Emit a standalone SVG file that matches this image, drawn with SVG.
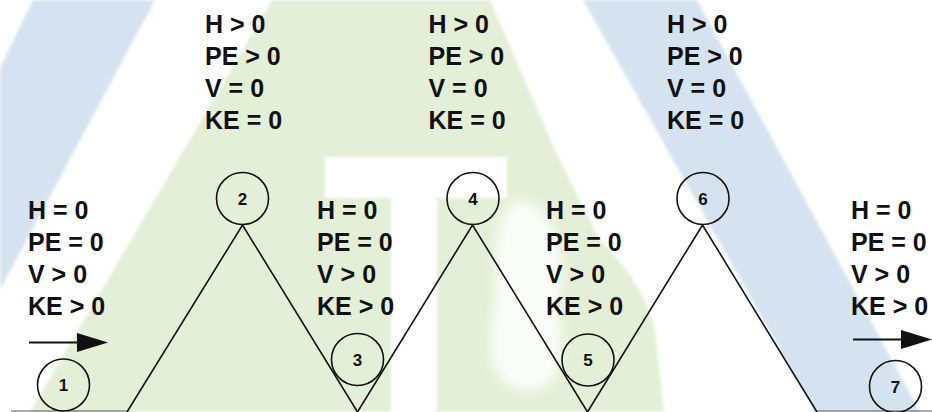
<svg xmlns="http://www.w3.org/2000/svg" width="932" height="412" viewBox="0 0 932 412">
  <style>
    .lbl { font-family: "Liberation Sans", Arial, sans-serif; font-weight: bold; font-size: 25px; fill: #111; }
    .num { font-family: "Liberation Sans", Arial, sans-serif; font-weight: bold; font-size: 17px; fill: #111; text-anchor: middle; }
    .node circle { fill: none; stroke: #111; stroke-width: 1.6; }
    .track { fill: none; stroke: #111; stroke-width: 1.6; stroke-linejoin: miter; }
    .ground { stroke: #555; stroke-width: 1.2; }
    .flow { stroke: #111; stroke-width: 2; marker-end: url(#head); }
    .blue { fill: #d5e3f1; }
    .green { fill: #e4efd7; }
    .white { fill: #ffffff; }
  </style>
  <defs>
    <marker id="head" markerUnits="userSpaceOnUse" markerWidth="31" markerHeight="19" refX="0" refY="9.5" orient="auto">
      <path d="M0,0 L31,9.5 L0,19 Z" fill="#111"/>
    </marker>
    <filter id="soft" x="-5%" y="-5%" width="110%" height="110%">
      <feGaussianBlur stdDeviation="1.8"/>
    </filter>
    <filter id="haze" x="-30%" y="-30%" width="160%" height="160%">
      <feGaussianBlur stdDeviation="6"/>
    </filter>
  </defs>

  <!-- pale backdrop emblem -->
  <rect width="932" height="412" fill="#ffffff"/>
  <g id="backdrop" filter="url(#soft)">
    <polygon class="blue" points="33,0 155,0 0,290 0,68"/>
    <path class="green" d="M272,0 L490,0 L555,150 L600,240 C630,270 648,300 655,330 L664,412 L30,412 Z"/>
    <rect class="white" x="325" y="157" width="182" height="41"/>
    <rect class="white" x="391" y="198" width="46" height="214"/>
    <polygon class="blue" points="583,0 697,0 920,412 815,412"/>
  </g>
  <g id="backdrop-curve" filter="url(#haze)" opacity="0.85">
    <path class="white" d="M520,200 C548,205 566,240 560,285 C556,330 570,360 548,385 C528,398 500,390 492,360 C486,330 498,310 496,285 C494,250 498,205 520,200 Z"/>
  </g>

  <!-- track, ground and direction arrows -->
  <g id="connectors">
    <line class="ground" x1="11" y1="411" x2="127" y2="411"/>
    <line class="ground" x1="817" y1="411" x2="932" y2="411"/>
    <polyline class="track" points="127,412 242.5,225 357.5,412 472.5,225 587.5,412 702.5,225 817,412"/>
    <line class="flow" x1="29" y1="342.5" x2="77" y2="342.5"/>
    <line class="flow" x1="853" y1="339.5" x2="901" y2="339.5"/>
  </g>

  <g id="node-1" class="node">
    <circle cx="63.5" cy="385" r="26"/>
    <text class="num" x="63.5" y="391">1</text>
    <text class="lbl" x="28" y="218.5"><tspan x="28">H = 0</tspan><tspan x="28" dy="32">PE = 0</tspan><tspan x="28" dy="32">V &gt; 0</tspan><tspan x="28" dy="32">KE &gt; 0</tspan></text>
  </g>

  <g id="node-2" class="node">
    <circle cx="242.5" cy="198.5" r="26"/>
    <text class="num" x="242.5" y="204.5">2</text>
    <text class="lbl" x="205" y="33"><tspan x="205">H &gt; 0</tspan><tspan x="205" dy="32">PE &gt; 0</tspan><tspan x="205" dy="32">V = 0</tspan><tspan x="205" dy="32">KE = 0</tspan></text>
  </g>

  <g id="node-3" class="node">
    <circle cx="357.5" cy="359.5" r="26"/>
    <text class="num" x="357.5" y="365.5">3</text>
    <text class="lbl" x="317" y="219"><tspan x="317">H = 0</tspan><tspan x="317" dy="32">PE = 0</tspan><tspan x="317" dy="32">V &gt; 0</tspan><tspan x="317" dy="32">KE &gt; 0</tspan></text>
  </g>

  <g id="node-4" class="node">
    <circle cx="473" cy="198.5" r="26"/>
    <text class="num" x="473" y="204.5">4</text>
    <text class="lbl" x="428.5" y="33"><tspan x="428.5">H &gt; 0</tspan><tspan x="428.5" dy="32">PE &gt; 0</tspan><tspan x="428.5" dy="32">V = 0</tspan><tspan x="428.5" dy="32">KE = 0</tspan></text>
  </g>

  <g id="node-5" class="node">
    <circle cx="588" cy="360" r="26"/>
    <text class="num" x="588" y="366">5</text>
    <text class="lbl" x="546" y="219"><tspan x="546">H = 0</tspan><tspan x="546" dy="32">PE = 0</tspan><tspan x="546" dy="32">V &gt; 0</tspan><tspan x="546" dy="32">KE &gt; 0</tspan></text>
  </g>

  <g id="node-6" class="node">
    <circle cx="703" cy="198.5" r="26"/>
    <text class="num" x="703" y="204.5">6</text>
    <text class="lbl" x="667" y="33"><tspan x="667">H &gt; 0</tspan><tspan x="667" dy="32">PE &gt; 0</tspan><tspan x="667" dy="32">V = 0</tspan><tspan x="667" dy="32">KE = 0</tspan></text>
  </g>

  <g id="node-7" class="node">
    <circle cx="895.5" cy="386.5" r="26"/>
    <text class="num" x="895.5" y="392.5">7</text>
    <text class="lbl" x="851" y="219"><tspan x="851">H = 0</tspan><tspan x="851" dy="32">PE = 0</tspan><tspan x="851" dy="32">V &gt; 0</tspan><tspan x="851" dy="32">KE &gt; 0</tspan></text>
  </g>
</svg>
